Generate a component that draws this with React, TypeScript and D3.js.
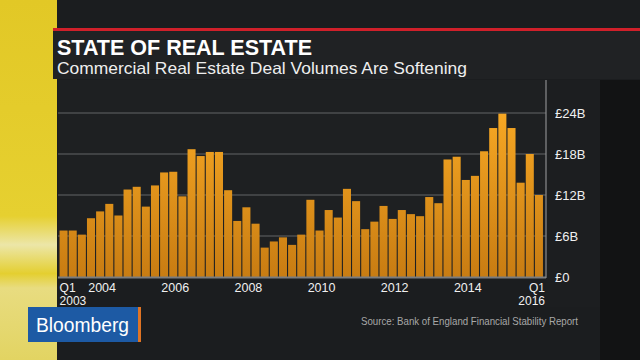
import React from "react";
import * as d3 from "d3";

const quarters: string[] = [];
for (let y = 2003; y <= 2016; y++) {
  for (let q = 1; q <= 4; q++) {
    if (y === 2016 && q > 1) break;
    quarters.push(`${y}Q${q}`);
  }
}

const volumes = [
  6.8, 6.8, 6.2, 8.6, 9.6, 10.7, 9.0, 12.8,
  13.2, 10.3, 13.4, 15.3, 15.4, 11.8, 18.7, 17.7,
  18.3, 18.3, 12.7, 8.2, 10.2, 7.8, 4.3, 5.2,
  5.8, 4.7, 6.2, 11.3, 6.8, 9.8, 8.7, 12.9,
  11.1, 7.0, 8.1, 10.4, 8.5, 9.8, 9.2, 8.9,
  11.7, 10.8, 17.2, 17.6, 14.2, 14.8, 18.4, 21.8,
  23.9, 21.8, 13.8, 18.0, 12.0,
];

const yTicks = [0, 6, 12, 18, 24];
const yTickLabels = ["£0", "£6B", "£12B", "£18B", "£24B"];
const yearLabels = ["2004", "2006", "2008", "2010", "2012", "2014"];

const title = "STATE OF REAL ESTATE";
const subtitle = "Commercial Real Estate Deal Volumes Are Softening";
const source = "Source: Bank of England Financial Stability Report";

const FONT = "'Liberation Sans', Arial, Helvetica, sans-serif";

export default function App() {
  const W = 640, H = 360;
  const plotL = 58, plotR = 546, plotT = 80, baseY = 277;
  const x = d3.scaleBand<string>().domain(quarters).range([59, 543.5]).paddingInner(0.12).paddingOuter(0.06);
  const y = d3.scaleLinear().domain([0, 24]).range([baseY, 113]);

  return (
    <svg width={W} height={H} style={{ position: "fixed", left: 0, top: 0, display: "block" }}>
      <defs>
        <linearGradient id="barGrad" gradientUnits="userSpaceOnUse" x1="0" y1="110" x2="0" y2="277">
          <stop offset="0" stopColor="#f7a824" />
          <stop offset="1" stopColor="#c87c12" />
        </linearGradient>
        <linearGradient id="yellowGrad" x1="0" y1="0" x2="0" y2="1">
          <stop offset="0" stopColor="#e2c826" />
          <stop offset="0.6" stopColor="#e6d030" />
          <stop offset="0.68" stopColor="#ece6a8" />
          <stop offset="0.76" stopColor="#e4cf30" />
          <stop offset="0.8" stopColor="#e8dc80" />
          <stop offset="1" stopColor="#e2d462" />
        </linearGradient>
      </defs>
      <rect x={0} y={0} width={W} height={H} fill="#1b1d1f" />
      <rect x={600} y={80} width={40} height={280} fill="#121314" />
      <rect x={0} y={0} width={57} height={H} fill="url(#yellowGrad)" />
      {/* header */}
      <rect x={53} y={31} width={W - 53} height={48} fill="#202224" />
      <rect x={53} y={28} width={W - 53} height={3} fill="#d0202a" />
      <text x={57} y={55} fill="#ffffff" fontFamily={FONT} fontWeight="bold" fontSize={22}
        textLength={255} lengthAdjust="spacingAndGlyphs">{title}</text>
      <text x={57} y={74} fill="#eeeeee" fontFamily={FONT} fontSize={16.5}
        textLength={410} lengthAdjust="spacingAndGlyphs">{subtitle}</text>
      {/* plot panel */}
      <rect x={plotL} y={plotT} width={plotR - plotL} height={baseY - plotT} fill="#1e2022" />
      <rect x={plotR} y={plotT} width={600 - plotR} height={baseY - plotT + 30} fill="#1c1e20" />
      {yTicks.slice(1).map((t) => (
        <line key={t} x1={plotL} x2={plotR} y1={y(t)} y2={y(t)} stroke="#4c4e50" strokeWidth={1.5} />
      ))}
      {volumes.map((v, i) => (
        <rect key={quarters[i]} x={x(quarters[i])} y={y(v)} width={x.bandwidth()} height={baseY - y(v)} fill="url(#barGrad)" />
      ))}
      <line x1={plotL} x2={plotR} y1={baseY + 0.5} y2={baseY + 0.5} stroke="#7a7c7e" strokeWidth={2} />
      <line x1={plotR} x2={plotR} y1={plotT} y2={baseY + 1} stroke="#8a8c8e" strokeWidth={1.2} />
      {yTicks.map((t, i) => (
        <text key={t} x={555} y={y(t)} dy="0.36em" fill="#f0f0f0" fontFamily={FONT} fontSize={13}>{yTickLabels[i]}</text>
      ))}
      {/* x labels */}
      <text x={x(quarters[0])} y={292} fill="#f0f0f0" fontFamily={FONT} fontSize={12}>Q1</text>
      <text x={x(quarters[0])} y={305} fill="#f0f0f0" fontFamily={FONT} fontSize={12}>2003</text>
      {yearLabels.map((yr) => (
        <text key={yr} x={(x(`${yr}Q1`) as number) + x.bandwidth() / 2 + 2} y={292} textAnchor="middle" fill="#f0f0f0" fontFamily={FONT} fontSize={12.5}>{yr}</text>
      ))}
      <text x={545} y={292} textAnchor="end" fill="#f0f0f0" fontFamily={FONT} fontSize={12}>Q1</text>
      <text x={545} y={305} textAnchor="end" fill="#f0f0f0" fontFamily={FONT} fontSize={12}>2016</text>
      {/* logo */}
      <rect x={28} y={307} width={110} height={35} fill="#1d5aa4" />
      <rect x={138} y={307} width={3} height={35} fill="#e07424" />
      <text x={36} y={332} fill="#ffffff" fontFamily={FONT} fontSize={20} textLength={93} lengthAdjust="spacingAndGlyphs">Bloomberg</text>
      <text x={361} y={325} fill="#a8a8a8" fontFamily={FONT} fontSize={10.5} textLength={217} lengthAdjust="spacingAndGlyphs">{source}</text>
    </svg>
  );
}
